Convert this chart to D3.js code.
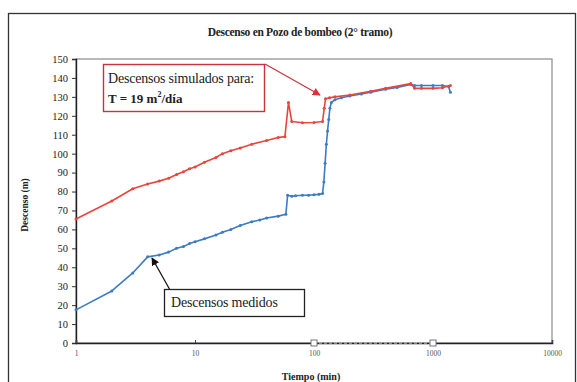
<!DOCTYPE html>
<html>
<head>
<meta charset="utf-8">
<script src="https://cdn.jsdelivr.net/npm/d3@7"></script>
<style>
  html, body { margin: 0; padding: 0; background: #fff; }
  svg { display: block; }
  svg text { font-family: "Liberation Serif", "Times New Roman", Times, "DejaVu Serif", serif !important; }
</style>
</head>
<body>
<svg id="chart" width="577" height="382"></svg>
<script>
// Pumping-well drawdown, second stretch (time in minutes, drawdown in metres)
const measuredT = [1, 2, 3, 4, 5, 6, 7, 8, 9, 10, 12, 15, 17, 20, 24, 30, 35, 40, 50, 58,
  60, 65, 70, 80, 90, 100, 110, 118, 121, 124, 127, 130, 133, 136, 140, 150, 170, 200,
  250, 300, 400, 500, 650, 700, 800, 1000, 1200, 1350, 1400];
const measuredV = [17.5, 27.5, 37, 45.5, 46.5, 48, 50, 51, 52.5, 53.5, 55, 57, 58.5, 60, 62, 64, 65, 66, 67, 68,
  78, 77.5, 77.8, 78, 78, 78.3, 78.5, 79, 85, 95, 105, 112, 118, 124, 127, 128.5, 129.5, 130.5,
  131.5, 132.5, 134, 135, 136.5, 136, 136, 136, 136, 135.5, 132.5];

const simulatedT = [1, 2, 3, 4, 5, 6, 7, 8, 9, 10, 12, 15, 17, 20, 24, 30, 40, 50, 57,
  61, 65, 80, 100, 118, 122, 125, 135, 150, 200, 300, 400, 650, 700, 800, 1000, 1200, 1400];
const simulatedV = [65.5, 75, 81.5, 84, 85.5, 87, 89, 90.5, 92, 93, 95.5, 98, 100, 101.5, 103, 105, 107, 108.5, 109,
  127, 117, 116.3, 116.5, 117, 124, 129, 129.5, 130, 131, 133, 134.5, 137, 134.5, 134.5, 134.5, 134.8, 136];

const zeroT = [100, 1000];
const zeroV = [0, 0];

const xTicks = [1, 10, 100, 1000, 10000];
const yTicks = [0, 10, 20, 30, 40, 50, 60, 70, 80, 90, 100, 110, 120, 130, 140, 150];

const SERIF = "'Liberation Serif', 'Times New Roman', Times, 'DejaVu Serif', serif";

const svg = d3.select("#chart").attr("font-family", SERIF);
const plot = { left: 76, right: 552, top: 59, bottom: 343 };

const x = d3.scaleLog().domain([1, 10000]).range([plot.left, plot.right]);
const y = d3.scaleLinear().domain([0, 150]).range([plot.bottom, plot.top]);

// outer chart frame
svg.append("rect")
  .attr("x", 8.5).attr("y", 13.5).attr("width", 567).attr("height", 380)
  .attr("fill", "#fff").attr("stroke", "#333").attr("stroke-width", 1.3);

// plot area frame
svg.append("rect")
  .attr("x", plot.left).attr("y", plot.top)
  .attr("width", plot.right - plot.left).attr("height", plot.bottom - plot.top)
  .attr("fill", "none").attr("stroke", "#8a8a8a").attr("stroke-width", 1.2);

// title
svg.append("text")
  .attr("x", 300).attr("y", 36)
  .attr("text-anchor", "middle")
  .attr("font-family", SERIF)
  .attr("font-size", 11.5).attr("font-weight", "bold").attr("fill", "#222")
  .attr("letter-spacing", -0.3)
  .text("Descenso en Pozo de bombeo (2° tramo)");

// y axis
const yAxis = svg.append("g")
  .attr("transform", `translate(${plot.left},0)`)
  .call(d3.axisLeft(y).tickValues(yTicks).tickSize(4).tickPadding(4))
  .attr("font-family", SERIF);
yAxis.select(".domain").attr("stroke", "#222").attr("stroke-width", 1.4);
yAxis.selectAll(".tick line").attr("stroke", "#333");
yAxis.selectAll(".tick text")
  .attr("font-family", SERIF)
  .attr("font-size", 10.5).attr("fill", "#222");

// x axis
const xAxis = svg.append("g")
  .attr("transform", `translate(0,${plot.bottom})`)
  .call(d3.axisBottom(x).tickValues(xTicks).tickFormat(d3.format("d")).tickSize(-3).tickPadding(8))
  .attr("font-family", SERIF);
xAxis.select(".domain").attr("stroke", "#222").attr("stroke-width", 1.6);
xAxis.selectAll(".tick line").attr("stroke", "#444");
xAxis.selectAll(".tick text")
  .attr("font-family", SERIF)
  .attr("font-size", 7.5).attr("fill", "#555");

// axis titles
svg.append("text")
  .attr("transform", "translate(28,205) rotate(-90)")
  .attr("text-anchor", "middle")
  .attr("font-family", SERIF)
  .attr("font-size", 9.5).attr("font-weight", "bold").attr("fill", "#222")
  .text("Descenso (m)");

svg.append("text")
  .attr("x", 311).attr("y", 380)
  .attr("text-anchor", "middle")
  .attr("font-family", SERIF)
  .attr("font-size", 10).attr("font-weight", "bold").attr("fill", "#222")
  .text("Tiempo (min)");

const line = d3.line().x(d => x(d[0])).y(d => y(d[1]));

function drawSeries(ts, vs, color) {
  const pts = ts.map((t, i) => [t, vs[i]]);
  svg.append("path")
    .datum(pts)
    .attr("d", line)
    .attr("fill", "none")
    .attr("stroke", color)
    .attr("stroke-width", 1.6)
    .attr("stroke-linejoin", "round");
  svg.append("g").selectAll("circle")
    .data(pts)
    .join("circle")
    .attr("cx", d => x(d[0])).attr("cy", d => y(d[1]))
    .attr("r", 1.5)
    .attr("fill", color);
}

// zero reference series
svg.append("path")
  .datum(zeroT.map((t, i) => [t, zeroV[i]]))
  .attr("d", line)
  .attr("fill", "none").attr("stroke", "#aaa").attr("stroke-width", 1.4)
  .attr("stroke-dasharray", "3,2");
svg.append("g").selectAll("rect")
  .data(zeroT.map((t, i) => [t, zeroV[i]]))
  .join("rect")
  .attr("x", d => x(d[0]) - 3).attr("y", d => y(d[1]) - 3)
  .attr("width", 6).attr("height", 6)
  .attr("fill", "#fff").attr("stroke", "#777").attr("stroke-width", 1);

drawSeries(measuredT, measuredV, "#3b7cc4");
drawSeries(simulatedT, simulatedV, "#e8453c");

// arrow heads
const defs = svg.append("defs");
function marker(id, color) {
  defs.append("marker")
    .attr("id", id)
    .attr("viewBox", "0 0 10 10")
    .attr("refX", 9).attr("refY", 5)
    .attr("markerWidth", 8).attr("markerHeight", 8)
    .attr("markerUnits", "userSpaceOnUse")
    .attr("orient", "auto")
    .append("path").attr("d", "M0,0 L10,5 L0,10 Z").attr("fill", color);
}
marker("arrowRed", "#d8323c");
marker("arrowBlack", "#111");

// simulated annotation
svg.append("line")
  .attr("x1", 265).attr("y1", 64).attr("x2", 320).attr("y2", 95)
  .attr("stroke", "#c8343e").attr("stroke-width", 1.2)
  .attr("marker-end", "url(#arrowRed)");
svg.append("rect")
  .attr("x", 103.5).attr("y", 64.5).attr("width", 161).attr("height", 47)
  .attr("fill", "#fff").attr("stroke", "#c8343e").attr("stroke-width", 1.4);
svg.append("text")
  .attr("x", 108).attr("y", 83)
  .attr("font-family", SERIF)
  .attr("font-size", 14).attr("fill", "#222").attr("letter-spacing", -0.2)
  .text("Descensos simulados para:");
const t2 = svg.append("text")
  .attr("x", 108).attr("y", 103)
  .attr("font-family", SERIF)
  .attr("font-size", 13).attr("font-weight", "bold").attr("fill", "#222");
t2.append("tspan").text("T = 19 m");
t2.append("tspan").attr("dy", -6).attr("font-size", 8).text("2");
t2.append("tspan").attr("dy", 6).text("/día");

// measured annotation
svg.append("line")
  .attr("x1", 170).attr("y1", 290).attr("x2", 152).attr("y2", 258)
  .attr("stroke", "#111").attr("stroke-width", 1.3)
  .attr("marker-end", "url(#arrowBlack)");
svg.append("rect")
  .attr("x", 164.5).attr("y", 289.5).attr("width", 140).attr("height", 27)
  .attr("fill", "#fff").attr("stroke", "#222").attr("stroke-width", 1.3);
svg.append("text")
  .attr("x", 171).attr("y", 307)
  .attr("font-family", SERIF)
  .attr("font-size", 14).attr("fill", "#222").attr("letter-spacing", -0.2)
  .text("Descensos medidos");
</script>
</body>
</html>
